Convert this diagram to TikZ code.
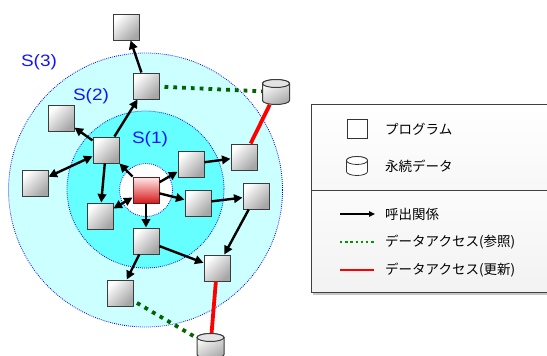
\documentclass[tikz,border=0pt]{standalone}
\usepackage{fontspec}
\usepackage{graphicx}
\newfontfamily\jp{Noto Sans CJK JP}
\newfontfamily\lat{Liberation Sans}
\usetikzlibrary{shapes.geometric,arrows.meta}
\definecolor{outerc}{RGB}{204,255,255}
\definecolor{midc}{RGB}{102,255,255}
\definecolor{ringb}{RGB}{0,0,255}
\definecolor{greenc}{RGB}{0,100,0}
\definecolor{legreen}{RGB}{0,150,0}
\definecolor{redc}{RGB}{255,0,0}
\definecolor{slabel}{RGB}{20,20,255}
\definecolor{edgec}{RGB}{60,60,60}
\definecolor{hubtl}{RGB}{255,235,235}
\definecolor{hubbr}{RGB}{215,25,25}
\definecolor{hubedge}{RGB}{90,30,30}
% #1 node name, #2 half width, #3 half height, #4 body style, #5 top style
\newcommand\mycyl[5]{%
\begin{scope}[shift={(#1.center)}, x=1pt, y=1pt]
  \draw[#4] (-#2,#3-4) -- (-#2,-#3+4) arc[start angle=180,end angle=360,x radius=#2,y radius=4] -- (#2,#3-4) arc[start angle=0,end angle=180,x radius=#2,y radius=4] -- cycle;
  \draw[#5] (0,#3-4) ellipse[x radius=#2, y radius=4];
\end{scope}}
\begin{document}
\begin{tikzpicture}[x=1pt,y=-1pt,
  prog/.style={rectangle, draw=edgec, line width=1pt, minimum size=26pt, inner sep=0pt, top color=white, bottom color=gray!70, shading angle=45},
  hub/.style={prog, top color=hubtl, bottom color=hubbr, draw=hubedge},
  dbbox/.style={rectangle, minimum width=27pt, minimum height=25pt, inner sep=0pt},
  legdbbox/.style={rectangle, minimum width=21pt, minimum height=19pt, inner sep=0pt},
  cylbody/.style={draw=edgec, line width=1pt, top color=white, bottom color=gray!65, shading angle=30},
  cyltop/.style={draw=edgec, line width=1pt, fill=gray!22},
  legcyl/.style={draw=black!80, line width=0.8pt, fill=white},
  legprog/.style={rectangle, draw=black!80, line width=0.8pt, minimum width=20pt, minimum height=19pt, inner sep=0pt, fill=white},
  call/.style={line width=2.4pt, -{Triangle[length=8.5pt,width=8.5pt]}},
  call2/.style={line width=2.4pt, {Triangle[length=8.5pt,width=8.5pt]}-{Triangle[length=8.5pt,width=8.5pt]}},
  refl/.style={draw=greenc, line width=3.8pt, dash pattern=on 3.8pt off 5pt},
  upd/.style={draw=redc, line width=3.8pt},
  ring/.style={draw=ringb, line width=0.8pt, dash pattern=on 0.8pt off 1.2pt},
  slab/.style={font=\lat\fontsize{16.5}{16.5}\selectfont, text=slabel, inner sep=0pt},
  legtext/.style={font=\jp\fontsize{13.5}{15}\selectfont, anchor=west, inner sep=0pt},
]
\useasboundingbox (0,0) rectangle (547,356);
% rings
\draw[ring, fill=outerc] (145.5,190) circle[radius=137];
\draw[ring, fill=midc] (145.5,189.5) circle[radius=78.5];
\draw[ring, fill=white] (146,190) circle[radius=26.5];
% labels
\node[slab] (s3) at (39,62) {\scalebox{1.15}[1]{S(3)}};
\node[slab] (s2) at (91,96) {\scalebox{1.15}[1]{S(2)}};
\node[slab] (s1) at (150,139) {\scalebox{1.15}[1]{S(1)}};
% nodes
\node[prog] (top) at (126,27) {};
\node[prog] (A) at (146,86) {};
\node[dbbox] (D1) at (276,92) {};
\node[prog] (B) at (61,118) {};
\node[prog] (C) at (106,150) {};
\node[prog] (D) at (191,164) {};
\node[prog] (E) at (244,157) {};
\node[prog] (F) at (35,183) {};
\node[hub] (X) at (146,190) {};
\node[prog] (G) at (100,216) {};
\node[prog] (H) at (198,203) {};
\node[prog] (I) at (256,196) {};
\node[prog] (J) at (146,241) {};
\node[prog] (K) at (217,268) {};
\node[prog] (L) at (120,293) {};
\node[dbbox] (D2) at (210.5,346) {};
% calls
\draw[call] (A) -- (top);
\draw[call] (C) -- (A);
\draw[call] (C) -- (B);
\draw[call2] (F) -- (C);
\draw[call] (X) -- (C);
\draw[call] (C) -- (G);
\draw[call2] (G) -- (X);
\draw[call] (X) -- (D);
\draw[call] (X) -- (H);
\draw[call] (X) -- (J);
\draw[call] (D) -- (E);
\draw[call] (H) -- (I);
\draw[call] (I) -- (K);
\draw[call] (J) -- (K);
\draw[call] (J) -- (L);
% data access
\draw[refl, shorten <=5pt] (A) -- (D1);
\draw[upd] (E) -- (D1);
\draw[upd, shorten >=-4pt] (K) -- (D2);
\draw[refl, shorten <=4pt] (L) -- (D2);
% cylinders
\mycyl{D1}{13.5}{12.5}{cylbody}{cyltop}
\mycyl{D2}{13.5}{12.5}{cylbody}{cyltop}
% legend box
\fill[gray!45] (313,106) rectangle (550,295);
\draw[draw=black!75, line width=0.8pt, top color=white, bottom color=gray!6] (311,104) rectangle (550,190);
\draw[draw=black!75, line width=0.8pt, top color=gray!3, bottom color=gray!10] (311,190) rectangle (550,292);
\node[legprog] (lp) at (357,129) {};
\node[legtext] (tp) at (385,129) {プログラム};
\node[legdbbox] (ld) at (357,166) {};
\mycyl{ld}{10.5}{9.5}{legcyl}{legcyl}
\node[legtext] (td) at (385,166) {永続データ};
\coordinate (la1) at (340,214);
\coordinate (la2) at (375,214);
\draw[line width=1.3pt, -{Triangle[length=6pt,width=5.5pt]}] (la1) -- (la2);
\node[legtext] (tc) at (385,214) {呼出関係};
\coordinate (lg1) at (340,242);
\coordinate (lg2) at (374,242);
\draw[draw=legreen, line width=2.4pt, dash pattern=on 2.4pt off 2.8pt] (lg1) -- (lg2);
\node[legtext] (tr) at (385,242) {データアクセス(参照)};
\coordinate (lr1) at (340,270);
\coordinate (lr2) at (374,270);
\draw[draw=redc, line width=2.6pt] (lr1) -- (lr2);
\node[legtext] (tu) at (385,270) {データアクセス(更新)};
\end{tikzpicture}
\end{document}
